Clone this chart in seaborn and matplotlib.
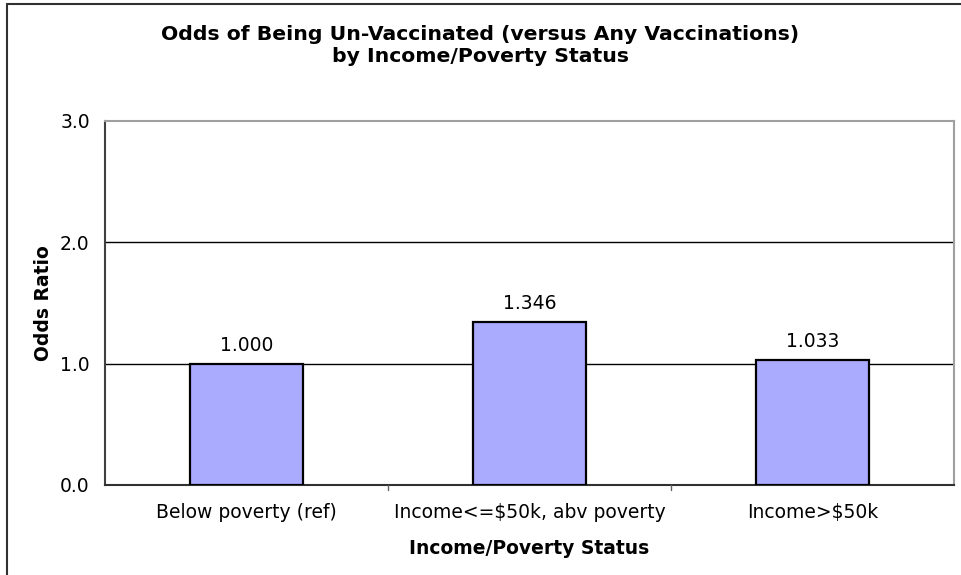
import matplotlib
matplotlib.use("Agg")
import matplotlib.pyplot as plt
from matplotlib.lines import Line2D
import seaborn as sns
import pandas as pd

categories = ["Below poverty (ref)", "Income<=$50k, abv poverty", "Income>$50k"]
odds_ratios = [1.000, 1.346, 1.033]
y_ticks = [0.0, 1.0, 2.0, 3.0]

sns.set_theme(style="white")
plt.rcParams["font.family"] = ["DejaVu Sans"]

df = pd.DataFrame({"status": categories, "odds": odds_ratios})

W, H = 961, 575
FS = 13.5
fig = plt.figure(figsize=(W / 100, H / 100), dpi=100)
fig.patch.set_facecolor("white")
ax = fig.add_axes([105 / W, 1 - 485 / H, (954 - 105) / W, (485 - 121) / H])

sns.barplot(data=df, x="status", y="odds", color="#AAAAFF", saturation=1,
            edgecolor="black", linewidth=1.6, width=0.40, ax=ax, zorder=3)

ax.set_ylim(0, 3.0)
ax.set_xlim(-0.5, len(categories) - 0.5)
ax.set_yticks(y_ticks)
ax.set_yticklabels([f"{v:.1f}" for v in y_ticks], fontsize=FS, color="black")
ax.tick_params(axis="y", length=4, width=1.0, color="#404040", direction="out", pad=7)
ax.tick_params(axis="x", length=0, labelsize=FS, labelcolor="black", pad=13)

# Category boundary ticks on the x axis
for xb in [0.5, 1.5]:
    ax.plot([xb, xb], [0, -0.045], color="#606060", lw=1.0, clip_on=False, zorder=4)

# Horizontal gridlines at interior ticks
for yv in y_ticks[1:-1]:
    ax.axhline(yv, color="black", lw=1.0, zorder=1)

ax.spines["left"].set_color("#404040")
ax.spines["bottom"].set_color("#303030")
ax.spines["top"].set_color("#A0A0A0")
ax.spines["right"].set_color("#A0A0A0")
for s in ax.spines.values():
    s.set_linewidth(1.5)
    s.set_visible(True)

for c in ax.containers:
    ax.bar_label(c, fmt="%.3f", padding=6, fontsize=FS, color="black")

ax.set_xlabel("Income/Poverty Status", fontsize=FS, fontweight="bold",
              labelpad=12, color="black")
ax.set_ylabel("Odds Ratio", fontsize=FS, fontweight="bold", labelpad=5, color="black")

fig.text(0.5, 1 - 34 / H, "Odds of Being Un-Vaccinated (versus Any Vaccinations)",
         ha="center", va="center", fontsize=14.7, fontweight="bold", color="black")
fig.text(0.5, 1 - 57 / H, "by Income/Poverty Status",
         ha="center", va="center", fontsize=14.7, fontweight="bold", color="black")

# Outer chart frame
fig.add_artist(Line2D([7 / W, 7 / W], [0, 1 - 4 / H], transform=fig.transFigure,
                      color="#303030", lw=1.5))
fig.add_artist(Line2D([7 / W, 1], [1 - 4 / H, 1 - 4 / H], transform=fig.transFigure,
                      color="#303030", lw=1.5))

fig.savefig("out.png", dpi=100)
